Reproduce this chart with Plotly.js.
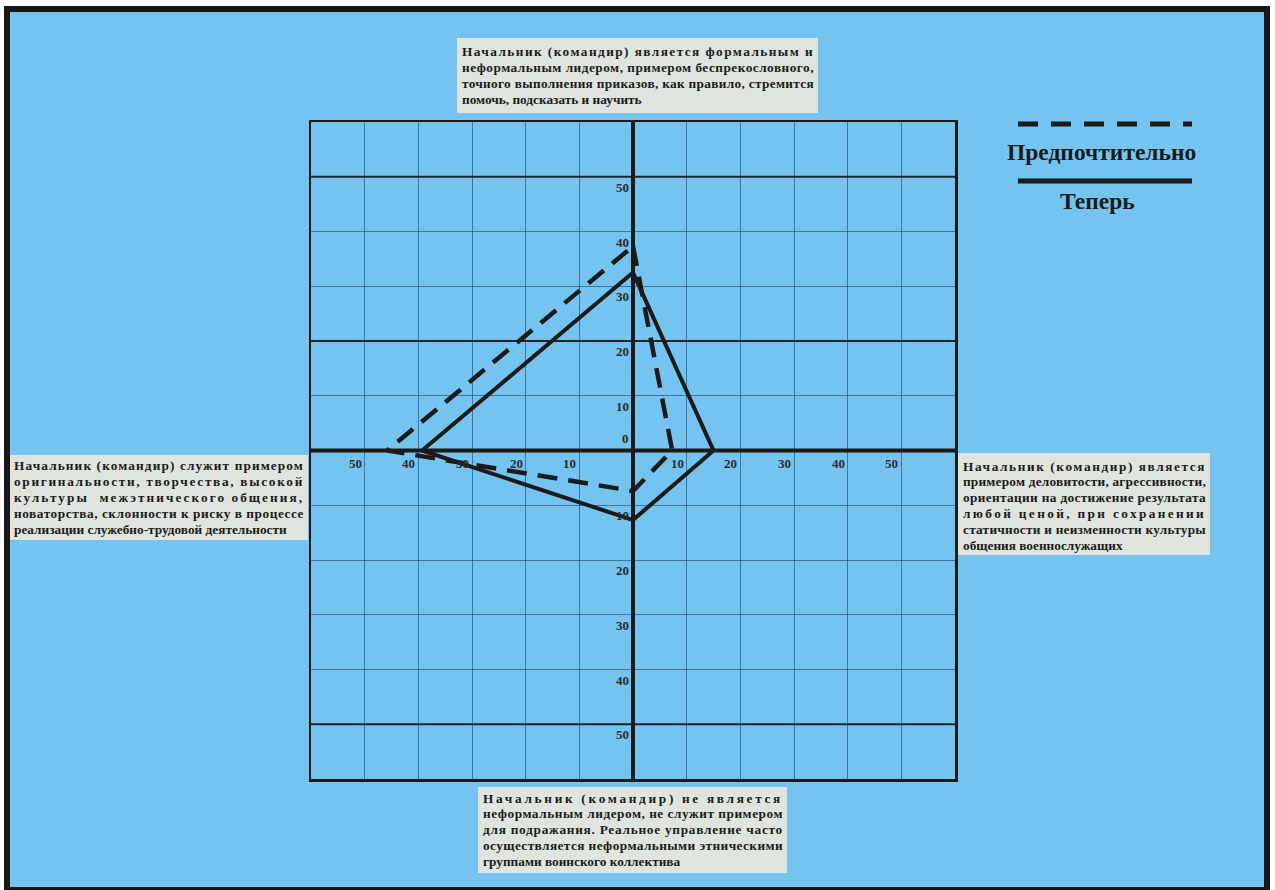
<!DOCTYPE html>
<html>
<head>
<meta charset="utf-8">
<script src="https://cdn.plot.ly/plotly-3.0.1.min.js"></script>
<style>html,body{margin:0;padding:0;background:#fff;}#chart{width:1275px;height:890px;}</style>
</head>
<body>
<div id="chart"></div>
<script>
// ---------- DATA ----------
// Order of directions: top (y+), right (x+), bottom (y-), left (x-)
const directions = ['top', 'right', 'bottom', 'left'];
const nowValues = [32.5, 15, 12.7, 39.3];        // Теперь (solid)
const preferredValues = [37.3, 7.3, 7.4, 45.8];  // Предпочтительно (dashed)
const tickValues = [10, 20, 30, 40, 50];
const seriesNames = ['Предпочтительно', 'Теперь'];

const topText = [
  'Начальник (командир) является формальным и',
  'неформальным лидером, примером беспрекословного,',
  'точного выполнения приказов, как правило, стремится',
  'помочь, подсказать и научить'
];
const leftText = [
  'Начальник (командир) служит примером',
  'оригинальности, творчества, высокой',
  'культуры  межэтнического общения,',
  'новаторства, склонности к риску в процессе',
  'реализации служебно-трудовой деятельности'
];
const rightText = [
  'Начальник (командир) является',
  'примером деловитости, агрессивности,',
  'ориентации на достижение результата',
  'любой ценой, при сохранении',
  'статичности и неизменности культуры',
  'общения военнослужащих'
];
const bottomText = [
  'Начальник (командир) не является',
  'неформальным лидером, не служит примером',
  'для подражания. Реальное управление часто',
  'осуществляется неформальными этническими',
  'группами воинского коллектива'
];

// ---------- LAYOUT HELPERS ----------
const W = 1275, H = 890;
const M = {l: 311, r: 320, t: 122, b: 111};
const PW = W - M.l - M.r, PH = H - M.t - M.b;
const px = x => (x - M.l) / PW;
const py = y => (H - M.b - y) / PH;

const BLUE = 'rgb(117,196,239)';
const INK = '#1b1b1b';
const BOXBG = '#dfe4dc';
const SERIF = '"Liberation Serif", "Times New Roman", serif';

function toXY(v) {
  return {x: [0, v[1], 0, -v[3], 0], y: [v[0], 0, -v[2], 0, v[0]]};
}

const pref = toXY(preferredValues);
const now = toXY(nowValues);

const traces = [
  {x: pref.x, y: pref.y, name: seriesNames[0], mode: 'lines', type: 'scatter',
   line: {color: INK, width: 4.5, dash: '20px,11px'}, hoverinfo: 'skip'},
  {x: now.x, y: now.y, name: seriesNames[1], mode: 'lines', type: 'scatter',
   line: {color: INK, width: 4}, hoverinfo: 'skip'}
];

const annotations = [];
const shapes = [
  // page frame
  {type: 'rect', xref: 'paper', yref: 'paper', x0: px(7), x1: px(1267), y0: py(890), y1: py(9),
   fillcolor: BLUE, line: {color: '#161616', width: 6}, layer: 'below'},
  // legend lines
  {type: 'line', xref: 'paper', yref: 'paper', x0: px(1018), x1: px(1192), y0: py(124), y1: py(124),
   line: {color: INK, width: 5, dash: '20px,13px'}},
  {type: 'line', xref: 'paper', yref: 'paper', x0: px(1018), x1: px(1192), y0: py(181), y1: py(181),
   line: {color: INK, width: 5}}
];

// ---------- TEXT BOXES (justified lines) ----------
const BOX_FONT_SIZE = 13.3;
const canvas = document.createElement('canvas');
const ctx = canvas.getContext('2d');
ctx.font = 'bold ' + BOX_FONT_SIZE + 'px "Liberation Serif"';
function textBox(lines, box) {
  shapes.push({type: 'rect', xref: 'paper', yref: 'paper',
    x0: px(box.left), x1: px(box.right), y0: py(box.bottom), y1: py(box.top),
    fillcolor: BOXBG, line: {width: 0}, layer: 'below'});
  const width = box.textRight - box.textLeft;
  lines.forEach((ln, i) => {
    let txt = ln;
    if (i < lines.length - 1) {
      const w = ctx.measureText(ln).width;
      const ls = (width - w) / ln.length;
      txt = '<span style="letter-spacing:' + ls.toFixed(3) + 'px">' + ln + '</span>';
    }
    annotations.push({xref: 'paper', yref: 'paper', x: px(box.textLeft), y: py(box.firstLine + i * box.step),
      xanchor: 'left', yanchor: 'middle', borderpad: 0, showarrow: false, text: txt,
      font: {family: SERIF, size: BOX_FONT_SIZE, color: INK, weight: 'bold'}});
  });
}

textBox(topText, {left: 457, right: 818, top: 38, bottom: 113, textLeft: 461, textRight: 813, firstLine: 51, step: 16.2});
textBox(leftText, {left: 10, right: 308, top: 455, bottom: 540, textLeft: 13, textRight: 303, firstLine: 465, step: 16});
textBox(rightText, {left: 958, right: 1210, top: 453, bottom: 555, textLeft: 962, textRight: 1205, firstLine: 466, step: 15.8});
textBox(bottomText, {left: 478, right: 787, top: 787, bottom: 873, textLeft: 482, textRight: 782, firstLine: 798, step: 15.8});

// ---------- AXIS NUMBER LABELS ----------
const labelFont = {family: SERIF, size: 13, color: '#2b2b2b', weight: 'bold'};
tickValues.forEach(v => {
  [-1, 1].forEach(s => {
    annotations.push({xref: 'x', yref: 'y', x: s * v, y: 0, xanchor: 'right', yanchor: 'top',
      xshift: -1, yshift: -3, text: String(v), showarrow: false, font: labelFont});
    annotations.push({xref: 'x', yref: 'y', x: 0, y: s * v, xanchor: 'right', yanchor: 'top',
      xshift: -2, yshift: -1, text: String(v), showarrow: false, font: labelFont});
  });
});
annotations.push({xref: 'x', yref: 'y', x: 0, y: 0, xanchor: 'right', yanchor: 'bottom',
  xshift: -2, yshift: 3, text: '0', showarrow: false, font: labelFont});

// legend texts
annotations.push({xref: 'paper', yref: 'paper', x: px(1101), y: py(152), xanchor: 'center', yanchor: 'middle',
  text: seriesNames[0], showarrow: false, font: {family: SERIF, size: 23.5, color: INK, weight: 'bold'}});
annotations.push({xref: 'paper', yref: 'paper', x: px(1097), y: py(201), xanchor: 'center', yanchor: 'middle',
  text: seriesNames[1], showarrow: false, font: {family: SERIF, size: 23.5, color: INK, weight: 'bold'}});

// heavier grid lines
[50, 20, -50].forEach(v => shapes.push({type: 'line', xref: 'x', yref: 'y', x0: -60, x1: 60, y0: v, y1: v,
  line: {color: '#1a2430', width: 2}, layer: 'between'}));
// axes through origin
shapes.push({type: 'line', xref: 'x', yref: 'y', x0: -60, x1: 60, y0: 0, y1: 0, line: {color: INK, width: 4}, layer: 'between'});
shapes.push({type: 'line', xref: 'x', yref: 'y', x0: 0, x1: 0, y0: -60, y1: 60, line: {color: INK, width: 4}, layer: 'between'});

const axisCommon = {
  range: [-60, 60], dtick: 10, tick0: 0, showgrid: true, gridcolor: 'rgba(25,50,80,0.55)', gridwidth: 1,
  zeroline: false, showticklabels: false, ticks: '', showline: true, mirror: true,
  linecolor: INK, linewidth: 2.5, fixedrange: true
};

const layout = {
  width: W, height: H, margin: M,
  paper_bgcolor: '#ffffff', plot_bgcolor: 'rgba(0,0,0,0)',
  showlegend: false,
  xaxis: Object.assign({}, axisCommon),
  yaxis: Object.assign({}, axisCommon),
  shapes: shapes,
  annotations: annotations
};

Plotly.newPlot('chart', traces, layout, {staticPlot: true});
</script>
</body>
</html>
